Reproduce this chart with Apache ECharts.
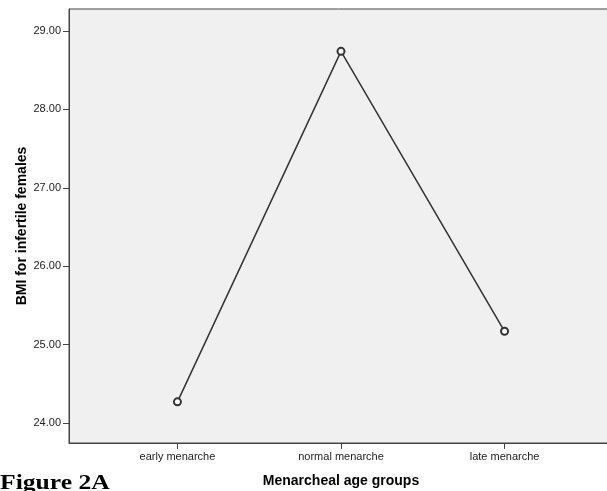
<!DOCTYPE html>
<html>
<head>
<meta charset="utf-8">
<script src="https://cdn.jsdelivr.net/npm/echarts@6/dist/echarts.min.js"></script>
<style>
  html, body { margin: 0; padding: 0; background: #fff; }
  #chart { width: 607px; height: 491px; }
</style>
</head>
<body>
<div id="chart"></div>
<script>
// menarche groups and mean BMI
const groups = ['early menarche', 'normal menarche', 'late menarche'];
const meanBmi = [24.27, 28.74, 25.17];
const yTicks = [24, 25, 26, 27, 28, 29];

const font = 'Arial, "Liberation Sans", sans-serif';
const chart = echarts.init(document.getElementById('chart'));

chart.setOption({
  animation: false,
  graphic: [{
    type: 'text',
    x: 0,
    y: 474,
    scaleX: 1.28,
    style: {
      text: 'Figure 2A',
      font: 'bold 20px "Liberation Serif", "Times New Roman", serif',
      fill: '#000'
    }
  }],
  grid: {
    left: 69,
    top: 9,
    right: -6,
    bottom: 48,
    outerBoundsMode: 'none',
    show: true,
    backgroundColor: '#f0f0f0',
    borderColor: '#444',
    borderWidth: 1
  },
  xAxis: {
    type: 'value',
    min: -0.663,
    max: 2.663,
    name: 'Menarcheal age groups',
    nameLocation: 'middle',
    nameGap: 31,
    nameMoveOverlap: false,
    nameTextStyle: { fontFamily: font, fontSize: 14, fontWeight: 'bold', color: '#000' },
    splitLine: { show: false },
    axisLine: { onZero: false, lineStyle: { color: '#444', width: 1 } },
    axisTick: { customValues: [0, 1, 2], length: 6, lineStyle: { color: '#444' } },
    axisLabel: {
      customValues: [0, 1, 2],
      formatter: v => groups[Math.round(v)],
      fontFamily: font, fontSize: 11, color: '#222', margin: 8
    }
  },
  yAxis: {
    type: 'value',
    min: 23.745,
    max: 29.28,
    name: 'BMI for infertile females',
    nameLocation: 'middle',
    nameGap: 40,
    nameMoveOverlap: false,
    nameTextStyle: { fontFamily: font, fontSize: 14, fontWeight: 'bold', color: '#000' },
    splitLine: { show: false },
    axisLine: { show: true, onZero: false, lineStyle: { color: '#444', width: 1 } },
    axisTick: { show: true, customValues: yTicks, length: 6, lineStyle: { color: '#444' } },
    axisLabel: {
      customValues: yTicks,
      formatter: v => v.toFixed(2),
      fontFamily: font, fontSize: 11, color: '#222', margin: 8
    }
  },
  series: [{
    type: 'line',
    data: meanBmi.map((v, i) => [i, v]),
    symbol: 'emptyCircle',
    symbolSize: 7,
    lineStyle: { color: '#333', width: 1.5 },
    itemStyle: { color: '#333', borderWidth: 1.2 }
  }]
});
</script>
</body>
</html>
